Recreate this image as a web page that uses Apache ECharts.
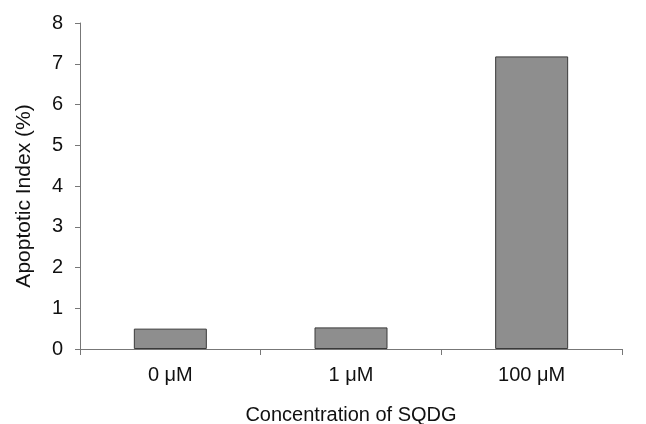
<!DOCTYPE html>
<html>
<head>
<meta charset="utf-8">
<script src="https://cdn.jsdelivr.net/npm/echarts@6/dist/echarts.min.js"></script>
<style>
  html, body { margin: 0; padding: 0; background: #fff; }
  #chart { width: 646px; height: 424px; }
</style>
</head>
<body>
<div id="chart"></div>
<script>
// values
const categories = ['0 \u03bcM', '1 \u03bcM', '100 \u03bcM'];
const apoptoticIndex = [0.5, 0.53, 7.18];
const yTicks = [0, 1, 2, 3, 4, 5, 6, 7, 8];

const chart = echarts.init(document.getElementById('chart'));
const font = 'Liberation Sans, Arial, sans-serif';

const option = {
    animation: false,
    backgroundColor: '#fff',
    grid: {
        left: 80,
        right: 24,
        top: 23,
        bottom: 75,
        outerBoundsMode: 'none'
    },
    xAxis: {
        type: 'category',
        data: categories,
        name: 'Concentration of SQDG',
        nameLocation: 'middle',
        nameGap: 56,
        nameTextStyle: { color: '#111', fontSize: 20, fontFamily: font },
        axisLine: { lineStyle: { color: '#777', width: 1 } },
        axisTick: { show: true, length: 6, lineStyle: { color: '#777' } },
        axisLabel: { color: '#111', fontSize: 20, fontFamily: font, margin: 16 }
    },
    yAxis: {
        type: 'value',
        min: yTicks[0],
        max: yTicks[yTicks.length - 1],
        interval: 1,
        name: 'Apoptotic Index (%)',
        nameLocation: 'middle',
        nameGap: 45,
        nameTextStyle: { color: '#111', fontSize: 21, fontFamily: font, padding: [0, 20, 0, 0] },
        axisLine: { show: true, lineStyle: { color: '#777', width: 1 } },
        axisTick: { show: true, length: 5, lineStyle: { color: '#777' } },
        axisLabel: { color: '#111', fontSize: 20, fontFamily: font, margin: 17 },
        splitLine: { show: false }
    },
    series: [
        {
            type: 'bar',
            data: apoptoticIndex,
            barWidth: 73,
            itemStyle: {
                color: '#8e8e8e',
                borderColor: '#3a3a3a',
                borderWidth: 1
            }
        }
    ]
};

chart.setOption(option);
</script>
</body>
</html>
